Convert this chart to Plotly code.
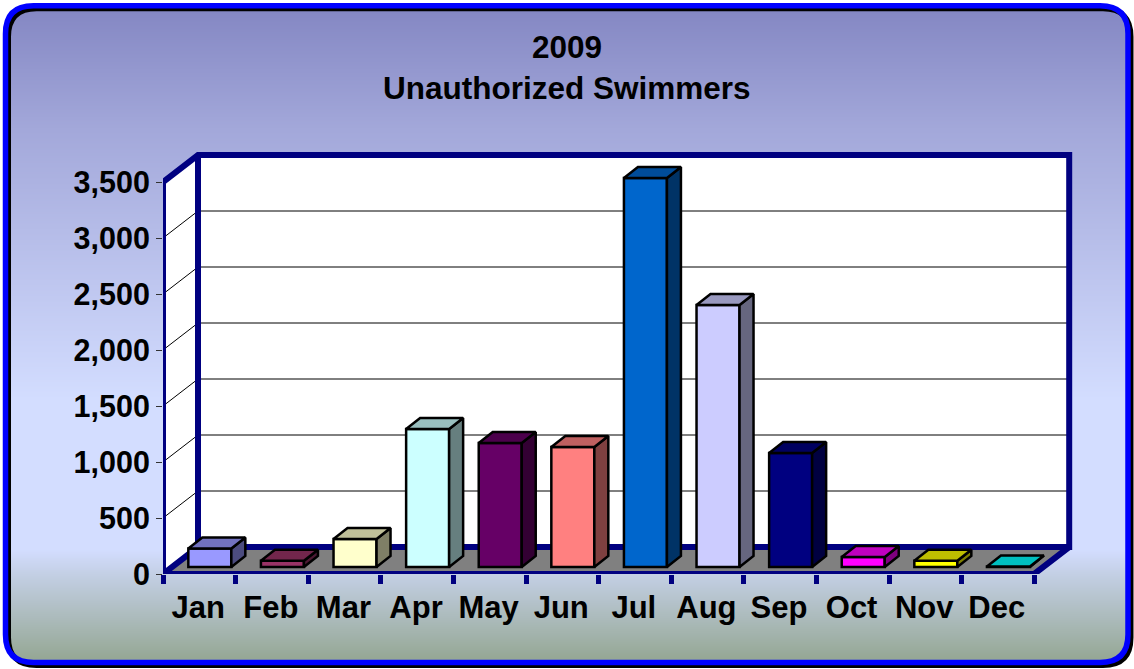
import plotly.graph_objects as go

W, H = 1134, 669
months = ["Jan", "Feb", "Mar", "Apr", "May", "Jun", "Jul", "Aug", "Sep", "Oct", "Nov", "Dec"]
swimmers = [165, 55, 250, 1232, 1107, 1071, 3473, 2339, 1018, 90, 55, 5]
bar_colors = ["#9999FF", "#993366", "#FFFFCC", "#CCFFFF", "#660066", "#FF8080",
              "#0066CC", "#CCCCFF", "#000080", "#FF00FF", "#FFFF00", "#00FFFF"]
y_ticks = [0, 500, 1000, 1500, 2000, 2500, 3000, 3500]
y_labels = ["0", "500", "1,000", "1,500", "2,000", "2,500", "3,000", "3,500"]
FONT = "Liberation Sans"
NAVY = "#000080"

# Pixel geometry of the pseudo-3D chart box
px_left, px_right, px_zero, px_top = 163, 1075, 574, 150
px_per_cat = 72.6
px_per_val = 392 / 3500
x_max = (px_right - px_left) / px_per_cat
y_max = (px_zero - px_top) / px_per_val
wall_dx = 35 / px_per_cat
wall_dy = 27 / px_per_val
bar_w = 43 / px_per_cat
bar_shift = 0.145
bar_base = 7 / px_per_val
bar_dx = 14 / px_per_cat
bar_dy = 11 / px_per_val
N = len(months)
Y_TOP = y_ticks[-1]


def shade(hex_color, k):
    r, g, b = (int(hex_color[i:i + 2], 16) for i in (1, 3, 5))
    return f"rgb({int(r * k)},{int(g * k)},{int(b * k)})"


fig = go.Figure()

# Background gradient (pixel row -> colour)
grad_stops = [(0, "#8487C3"), (8, "#8487C3"), (130, "#A3A8DA"), (400, "#D3DDFF"),
              (550, "#D3DDFF"), (575, "#C3CFE4"), (658, "#96A896"), (669, "#96A896")]
fig.add_trace(go.Heatmap(
    z=[[y, y] for y in range(H)], x=[0, W], y=list(range(H)),
    zmin=0, zmax=H - 1, showscale=False, hoverinfo="skip",
    colorscale=[[s / (H), c] for s, c in grad_stops[:-1]] + [[1, grad_stops[-1][1]]],
    xaxis="x", yaxis="y"))


def poly(xs, ys, fill, line_color=NAVY, lw=0, axes=("x2", "y2"), mode="lines"):
    fig.add_trace(go.Scatter(
        x=xs, y=ys, mode=mode, fill="toself" if fill else None, fillcolor=fill,
        line=dict(color=line_color, width=lw), hoverinfo="skip", showlegend=False,
        cliponaxis=False, xaxis=axes[0], yaxis=axes[1]))


# Walls and floor
poly([wall_dx, N + wall_dx, N + wall_dx, wall_dx, wall_dx],
     [wall_dy, wall_dy, Y_TOP + wall_dy, Y_TOP + wall_dy, wall_dy], "white")
poly([0, wall_dx, wall_dx, 0, 0], [0, wall_dy, Y_TOP + wall_dy, Y_TOP, 0], "white")
poly([0, N, N + wall_dx, wall_dx, 0], [0, 0, wall_dy, wall_dy, 0], "#808080")

# Gridlines
for v in y_ticks[1:-1]:
    poly([0, wall_dx, N + wall_dx], [v, v + wall_dy, v + wall_dy], None, "#000000", 1)

# Frame
poly([0, 0, wall_dx, N + wall_dx, N + wall_dx, wall_dx, wall_dx],
     [0, Y_TOP, Y_TOP + wall_dy, Y_TOP + wall_dy, wall_dy, wall_dy, Y_TOP + wall_dy],
     None, NAVY, 6)
poly([wall_dx, 0, N, N + wall_dx], [wall_dy, 0, 0, wall_dy], None, NAVY, 6)

# Bars: front faces
centers = [i + 0.5 + bar_shift for i in range(N)]
fig.add_trace(go.Bar(
    x=centers, y=swimmers, base=bar_base, width=bar_w,
    marker=dict(color=bar_colors, line=dict(color="#000000", width=2.5)),
    hoverinfo="skip", showlegend=False, xaxis="x3", yaxis="y3"))

# Bars: tops and sides, derived from the values
for c, v, col in zip(centers, swimmers, bar_colors):
    l, r = c - bar_w / 2, c + bar_w / 2
    t = bar_base + v
    poly([r, r + bar_dx, r + bar_dx, r, r],
         [bar_base, bar_base + bar_dy, t + bar_dy, t, bar_base],
         shade(col, 0.5), "#000000", 2.5, ("x3", "y3"))
    poly([l, r, r + bar_dx, l + bar_dx, l],
         [t, t, t + bar_dy, t + bar_dy, t],
         shade(col, 0.75), "#000000", 2.5, ("x3", "y3"))


def P(x, y):
    return f"{x / W:.5f},{1 - y / H:.5f}"


def rounded(x0, y0, x1, y1, r):
    return (f"M{P(x0 + r, y0)} L{P(x1 - r, y0)} Q{P(x1, y0)} {P(x1, y0 + r)} "
            f"L{P(x1, y1 - r)} Q{P(x1, y1)} {P(x1 - r, y1)} L{P(x0 + r, y1)} "
            f"Q{P(x0, y1)} {P(x0, y1 - r)} L{P(x0, y0 + r)} Q{P(x0, y0)} {P(x0 + r, y0)} Z")


fx0, fy0, fx1, fy1, rad = 5.5, 5.8, 1128, 662.5, 28
shapes = [
    dict(type="path", xref="paper", yref="paper", layer="above", fillrule="evenodd",
         path=f"M{P(0, 0)} L{P(W, 0)} L{P(W, H)} L{P(0, H)} Z " + rounded(fx0, fy0, fx1, fy1, rad),
         fillcolor="white", line=dict(width=0)),
    dict(type="path", xref="paper", yref="paper", layer="above",
         path=rounded(fx0 + 3, fy0 + 3, fx1 + 3, fy1 + 3, rad),
         line=dict(color="#000000", width=5)),
    dict(type="path", xref="paper", yref="paper", layer="above",
         path=rounded(fx0, fy0, fx1, fy1, rad),
         line=dict(color="#0000FF", width=5.5)),
]

dom_x = [px_left / W, px_right / W]
dom_y = [(H - px_zero) / H, (H - px_top) / H]
x_font = dict(family=FONT, size=31, color="#000000", weight="bold")
y_font = dict(family=FONT, size=30.5, color="#000000", weight="bold")
title_font = dict(family=FONT, size=31.5, color="#000000", weight="bold")

fig.update_layout(
    width=W, height=H, margin=dict(l=0, r=0, t=0, b=0, autoexpand=False),
    paper_bgcolor="white", plot_bgcolor="rgba(0,0,0,0)", showlegend=False,
    shapes=shapes,
    annotations=[
        dict(text="2009", xref="paper", yref="paper", x=566.5 / W, y=1 - 47 / H,
             showarrow=False, font=title_font, xanchor="center", yanchor="middle"),
        dict(text="Unauthorized Swimmers", xref="paper", yref="paper", x=566.5 / W, y=1 - 88 / H,
             showarrow=False, font=title_font, xanchor="center", yanchor="middle"),
    ],
    xaxis=dict(domain=[0, 1], range=[0, W], visible=False, fixedrange=True),
    yaxis=dict(domain=[0, 1], range=[H, 0], visible=False, fixedrange=True),
    xaxis2=dict(domain=dom_x, range=[0, x_max], anchor="y2", showgrid=False, zeroline=False,
                showline=False, tickmode="array",
                tickvals=[i + 0.485 for i in range(N)], ticktext=months, ticks="",
                tickfont=x_font, ticklabelstandoff=12, fixedrange=True,
                minor=dict(tickmode="array", tickvals=list(range(N + 1)), ticks="outside",
                           ticklen=9, tickwidth=5, tickcolor=NAVY, showgrid=False)),
    yaxis2=dict(domain=dom_y, range=[0, y_max], anchor="x2", showgrid=False, zeroline=False,
                showline=False, tickmode="array", tickvals=y_ticks, ticktext=y_labels,
                ticks="outside", ticklen=6, tickwidth=1, tickcolor="#333333",
                tickfont=y_font, ticklabelstandoff=0, fixedrange=True),
    xaxis3=dict(domain=dom_x, range=[0, x_max], anchor="y3", overlaying="x2", visible=False,
                fixedrange=True),
    yaxis3=dict(domain=dom_y, range=[0, y_max], anchor="x3", overlaying="y2", visible=False,
                fixedrange=True),
)

fig.write_html("out.html", post_script="document.body.style.margin='0';",
               config=dict(displayModeBar=False))
